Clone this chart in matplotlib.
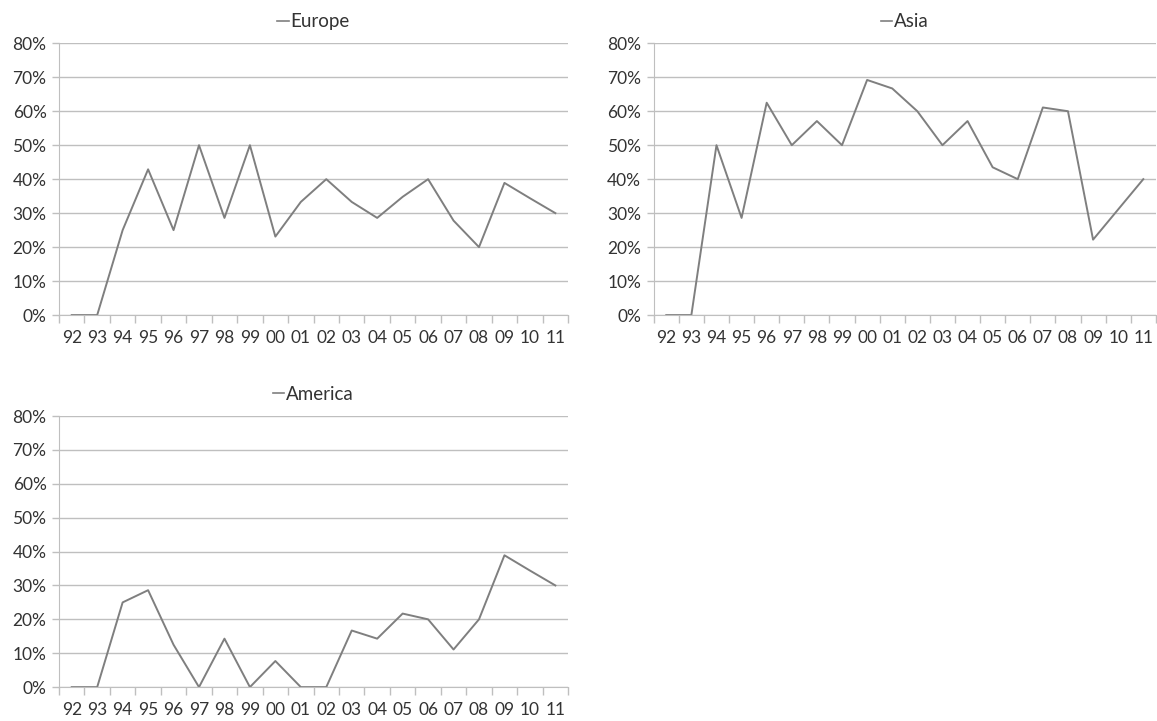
import numpy as np
import matplotlib.pyplot as plt
from matplotlib.ticker import FixedLocator, PercentFormatter

years = ['92', '93', '94', '95', '96', '97', '98', '99', '00', '01',
         '02', '03', '04', '05', '06', '07', '08', '09', '10', '11']

europe = [0, 0, 25, 42.9, 25, 50, 28.6, 50, 23.1, 33.3,
          40, 33.3, 28.6, 34.8, 40, 27.8, 20, 38.9, 34.4, 30]
asia = [0, 0, 50, 28.6, 62.5, 50, 57.1, 50, 69.2, 66.7,
        60, 50, 57.1, 43.5, 40, 61.1, 60, 22.2, 31.1, 40]
america = [0, 0, 25, 28.6, 12.5, 0, 14.3, 0, 7.7, 0,
           0, 16.7, 14.3, 21.7, 20, 11.1, 20, 38.9, 34.4, 30]

plt.rcParams['font.family'] = ['Lato', 'DejaVu Sans']

fig = plt.figure(figsize=(11.57, 7.21), dpi=100)

panels = [
    ('Europe', europe, [0.051, 0.563, 0.440, 0.377]),
    ('Asia', asia, [0.565, 0.563, 0.434, 0.377]),
    ('America', america, [0.051, 0.047, 0.440, 0.376]),
]

line_col = '#7f7f7f'
grid_col = '#bfbfbf'
text_col = '#333333'

for name, vals, rect in panels:
    ax = fig.add_axes(rect)
    x = np.arange(len(years))
    ax.plot(x, np.array(vals) / 100, color=line_col, lw=1.4, label=name)

    ax.set_xlim(-0.5, len(years) - 0.5)
    ax.set_ylim(0, 0.8)
    ax.set_yticks(np.arange(0, 0.81, 0.1))
    ax.yaxis.set_major_formatter(PercentFormatter(1.0, decimals=0))
    ax.yaxis.grid(True, color=grid_col, lw=1)
    ax.set_axisbelow(True)

    ax.set_xticks(x)
    ax.set_xticklabels(years)
    ax.xaxis.set_minor_locator(FixedLocator(np.arange(-0.5, len(years), 1)))
    ax.tick_params(axis='x', which='major', length=0, pad=11,
                   labelsize=12.5, labelcolor=text_col)
    ax.tick_params(axis='x', which='minor', length=6, width=1, color=grid_col)
    ax.tick_params(axis='y', length=5, width=1, color=grid_col,
                   labelsize=12.5, labelcolor=text_col, pad=4)

    for s in ('top', 'right'):
        ax.spines[s].set_visible(False)
    ax.spines['left'].set_color(grid_col)
    ax.spines['bottom'].set_color(grid_col)

    leg = ax.legend(loc='lower center', bbox_to_anchor=(0.5, 1.0),
                    frameon=False, handlelength=0.6, handletextpad=0.1,
                    fontsize=13.5, borderaxespad=0.3)
    for h in leg.get_lines():
        h.set_linewidth(1.2)
    for t in leg.get_texts():
        t.set_color(text_col)

fig.savefig('out.png', dpi=100)
